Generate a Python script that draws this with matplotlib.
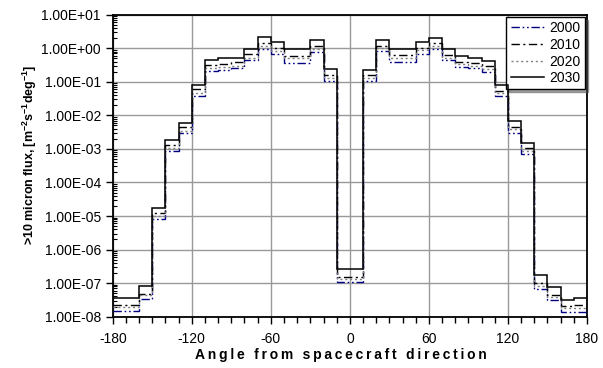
import numpy as np
import matplotlib
matplotlib.use("Agg")
import matplotlib.pyplot as plt
import matplotlib.ticker as mticker

plt.rcParams['font.family'] = ['Liberation Sans', 'DejaVu Sans']
plt.rcParams['mathtext.fontset'] = 'custom'
plt.rcParams['mathtext.rm'] = 'Liberation Sans'
plt.rcParams['mathtext.bf'] = 'Liberation Sans:bold'
plt.rcParams['mathtext.default'] = 'bf'
plt.rcParams['axes.unicode_minus'] = False

# 10-degree angular bins, -180..180
bin_edges = np.arange(-180, 190, 10)

flux_2000 = [1.45e-8, 1.45e-8, 3.3e-8, 8.0e-6, 8.7e-4, 2.9e-3, 3.8e-2, 0.21, 0.23, 0.25,
             0.45, 0.94, 0.69, 0.37, 0.37, 0.79, 0.106, 1.05e-7, 1.05e-7, 0.106,
             0.81, 0.39, 0.39, 0.69, 0.94, 0.45, 0.27, 0.25, 0.20, 0.037,
             3.0e-3, 7.2e-4, 6.8e-8, 3.1e-8, 1.4e-8, 1.4e-8]
flux_2010 = [2.2e-8, 2.2e-8, 4.8e-8, 1.2e-5, 1.3e-3, 4.4e-3, 6.0e-2, 0.31, 0.35, 0.38,
             0.66, 1.4, 1.0, 0.60, 0.58, 1.2, 0.16, 1.56e-7, 1.56e-7, 0.16,
             1.2, 0.62, 0.62, 1.05, 1.45, 0.62, 0.40, 0.36, 0.30, 0.055,
             4.6e-3, 1.05e-3, 1.0e-7, 4.4e-8, 2.1e-8, 2.2e-8]
flux_2020 = [1.9e-8, 1.9e-8, 4.3e-8, 1.0e-5, 1.05e-3, 3.5e-3, 4.7e-2, 0.26, 0.28, 0.30,
             0.53, 1.17, 0.85, 0.50, 0.50, 0.98, 0.13, 1.3e-7, 1.3e-7, 0.13,
             1.0, 0.52, 0.52, 0.87, 1.15, 0.53, 0.33, 0.30, 0.24, 0.045,
             3.8e-3, 8.8e-4, 8.5e-8, 3.9e-8, 1.8e-8, 1.8e-8]
flux_2030 = [3.5e-8, 3.5e-8, 8.0e-8, 1.75e-5, 1.85e-3, 6.0e-3, 8.0e-2, 0.45, 0.50, 0.53,
             0.94, 2.1, 1.5, 0.94, 0.94, 1.75, 0.235, 2.6e-7, 2.6e-7, 0.23,
             1.77, 0.94, 0.94, 1.55, 2.05, 0.94, 0.59, 0.52, 0.43, 0.079,
             6.9e-3, 1.5e-3, 1.7e-7, 7.5e-8, 3.2e-8, 3.5e-8]

x_title = 'Angle from spacecraft direction'
y_title = r'>10 micron flux, [m$^{-2}$s$^{-1}$deg$^{-1}$]'

fig = plt.figure(figsize=(6.03, 3.68), dpi=100)
ax = fig.add_axes([0.187, 0.1394, 0.7865, 0.8206])

ax.stairs(flux_2000, bin_edges, baseline=None, label='2000', color='#000080',
          linewidth=1.0, linestyle=(0, (6, 2, 1.2, 2, 1.2, 2)), zorder=3)
ax.stairs(flux_2010, bin_edges, baseline=None, label='2010', color='black',
          linewidth=1.0, linestyle=(0, (6, 2.5, 1.5, 2.5)), zorder=4)
ax.stairs(flux_2020, bin_edges, baseline=None, label='2020', color='#808080',
          linewidth=1.0, linestyle=(0, (1.5, 2)), zorder=5)
ax.stairs(flux_2030, bin_edges, baseline=None, label='2030', color='black',
          linewidth=1.1, zorder=6)

ax.set_yscale('log')
ax.set_xlim(-180, 180)
ax.set_ylim(1e-8, 1e1)

ax.xaxis.set_major_locator(mticker.MultipleLocator(60))
ax.xaxis.set_minor_locator(mticker.MultipleLocator(10))
ax.yaxis.set_major_locator(mticker.LogLocator(base=10, numticks=20))
ax.yaxis.set_minor_locator(mticker.LogLocator(base=10, subs=np.arange(2, 10), numticks=20))
ax.yaxis.set_minor_formatter(mticker.NullFormatter())
ax.yaxis.set_major_formatter(mticker.FuncFormatter(lambda v, _: f'{v:.2E}'))

ax.tick_params(axis='both', which='major', labelsize=10, length=5, width=1, direction='out')
ax.tick_params(axis='x', which='minor', length=4, width=1, direction='out')
ax.tick_params(axis='y', which='minor', length=3, width=0.8, direction='in')
ax.tick_params(axis='x', pad=6)

ax.grid(True, which='major', color='#999999', linewidth=1.0)
ax.set_axisbelow(True)
for sp in ax.spines.values():
    sp.set_linewidth(1.3)
    sp.set_color('black')

# spread the letters of the axis title a little
ax.set_xlabel('\u2009'.join(x_title), fontsize=10, fontweight='bold')
ax.xaxis.set_label_coords(0.48, -0.105)
ax.set_ylabel(y_title, fontsize=9, fontweight='bold')
ax.yaxis.set_label_coords(-0.155, 0.535)

leg = ax.legend(loc='upper right', fontsize=10, frameon=True, fancybox=False,
                shadow=True, borderaxespad=0.15, handlelength=2.4, labelspacing=0.2,
                borderpad=0.3, handletextpad=0.4)
leg.get_frame().set_edgecolor('black')
leg.get_frame().set_linewidth(1.0)

fig.savefig('out.png', dpi=100)
